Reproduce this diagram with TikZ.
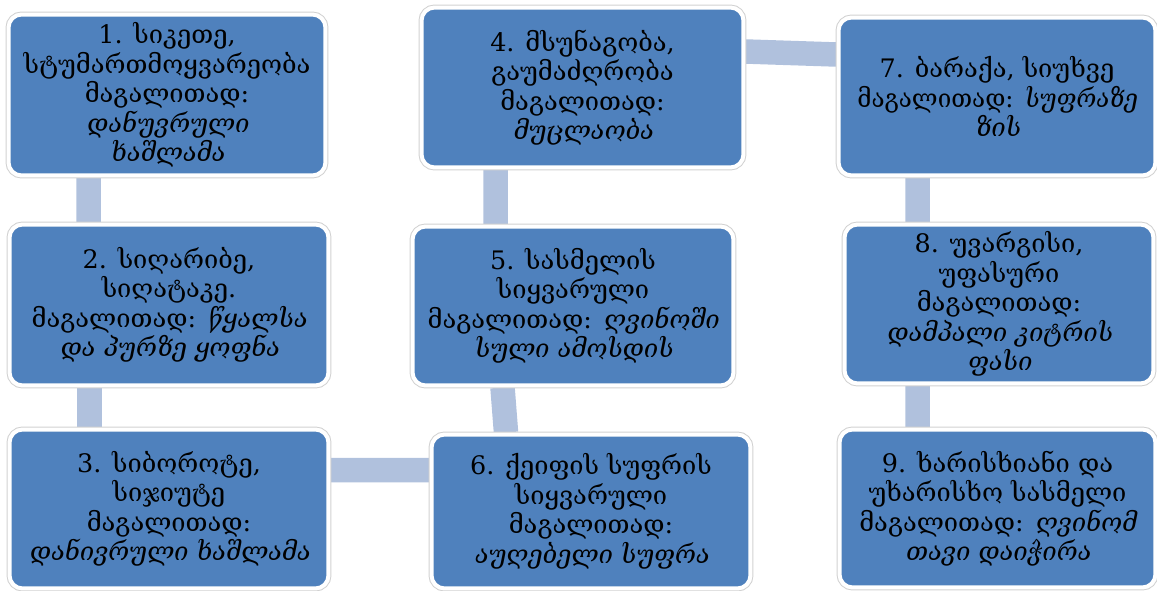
\documentclass[tikz,border=0pt]{standalone}
\usepackage{fontspec}
\setmainfont{DejaVu Serif}[ItalicFont={DejaVu Serif},ItalicFeatures={FakeSlant=0.2}]
\usetikzlibrary{backgrounds}
\definecolor{boxblue}{HTML}{4F81BD}
\definecolor{barblue}{HTML}{B0C1DD}
\tikzset{
  px/.style={x=0.02cm,y=-0.02cm},
  stepbox/.style={rectangle, rounded corners=0.26cm, fill=boxblue, draw=white,
    line width=0.08cm, preaction={draw=black!18, line width=0.12cm},
    align=center, inner sep=0pt, text=black,
    font=\fontsize{14.5}{16.8}\selectfont},
  bar/.style={draw=barblue, line width=0.49cm}
}
\begin{document}
\begin{tikzpicture}[px]
\useasboundingbox (0,0) rectangle (1157,591);
\node[stepbox, minimum width=6.34cm, minimum height=3.22cm] (n1) at (167,95)
  {1. სიკეთე,\\სტუმართმოყვარეობა\\მაგალითად:\\\textit{დანუვრული}\\\textit{ხაშლამა}};
\node[stepbox, minimum width=6.38cm, minimum height=3.22cm] (n2) at (169,305)
  {2. სიღარიბე,\\სიღატაკე.\\მაგალითად: \textit{წყალსა}\\\textit{და პურზე ყოფნა}};
\node[stepbox, minimum width=6.38cm, minimum height=3.18cm] (n3) at (169,509)
  {3. სიბოროტე,\\სიჯიუტე\\მაგალითად:\\\textit{დანივრული ხაშლამა}};
\node[stepbox, minimum width=6.44cm, minimum height=3.2cm] (n4) at (582.5,87.5)
  {4. მსუნაგობა,\\გაუმაძღრობა\\მაგალითად:\\\textit{მუცლაობა}};
\node[stepbox, minimum width=6.42cm, minimum height=3.18cm] (n5) at (573,306)
  {5. სასმელის\\სიყვარული\\მაგალითად: \textit{ღვინოში}\\\textit{სული ამოსდის}};
\node[stepbox, minimum width=6.38cm, minimum height=3.08cm] (n6) at (591,511.5)
  {6. ქეიფის სუფრის\\სიყვარული\\მაგალითად:\\\textit{აუღებელი სუფრა}};
\node[stepbox, minimum width=6.34cm, minimum height=3.16cm] (n7) at (997,96.5)
  {7. ბარაქა, სიუხვე\\\scalebox{0.95}[1]{მაგალითად: \textit{სუფრაზე}}\\\textit{ზის}};
\node[stepbox, minimum width=6.18cm, minimum height=3.18cm] (n8) at (999,304)
  {8. უვარგისი,\\უფასური\\მაგალითად:\\\textit{დამპალი კიტრის}\\\textit{ფასი}};
\node[stepbox, minimum width=6.32cm, minimum height=3.16cm] (n9) at (997.5,508.5)
  {9. ხარისხიანი და\\უხარისხო სასმელი\\მაგალითად: \textit{ღვინომ}\\\textit{თავი დაიჭირა}};
\begin{scope}[on background layer]
  \draw[bar] ([xshift=-1.57cm]n1.south) -- ([xshift=-1.61cm]n2.north);
  \draw[bar] ([xshift=-1.59cm]n2.south) -- ([xshift=-1.59cm]n3.north);
  \draw[bar] ([yshift=0.78cm]n3.east) -- ([yshift=0.83cm]n6.west);
  \draw[bar] ([xshift=-1.7cm]n6.north) -- ([xshift=-1.41cm]n5.south);
  \draw[bar] ([xshift=-1.55cm]n5.north) -- ([xshift=-1.74cm]n4.south);
  \draw[bar] ([yshift=0.72cm]n4.east) -- ([yshift=0.84cm]n7.west);
  \draw[bar] ([xshift=-1.59cm]n7.south) -- ([xshift=-1.63cm]n8.north);
  \draw[bar] ([xshift=-1.63cm]n8.south) -- ([xshift=-1.6cm]n9.north);
\end{scope}
\end{tikzpicture}
\end{document}
